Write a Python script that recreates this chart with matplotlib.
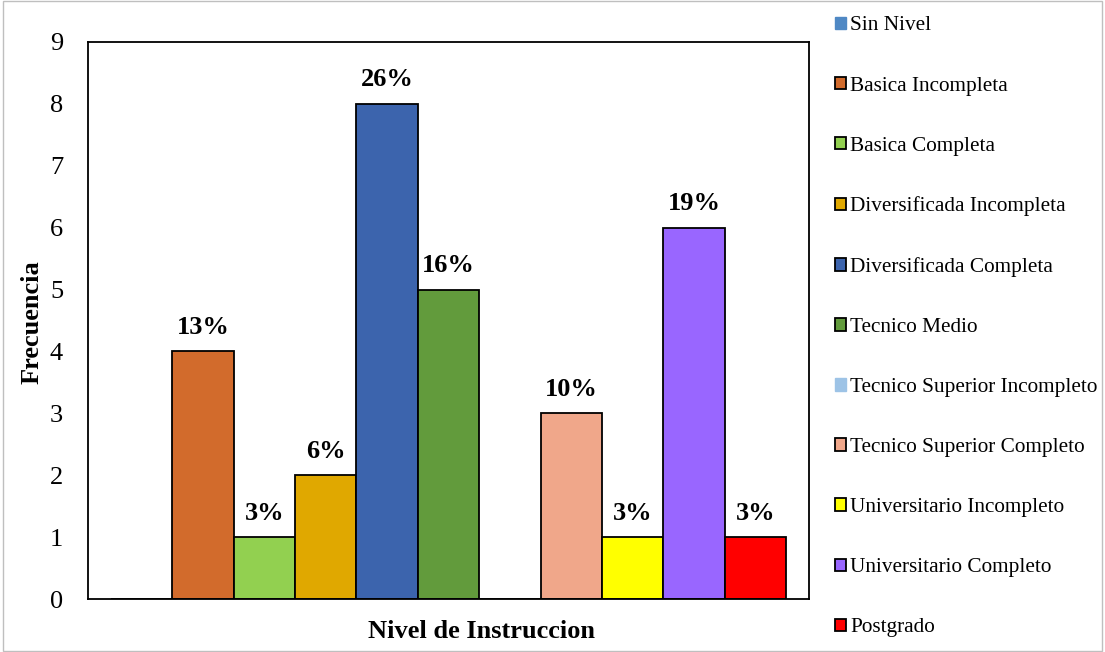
import matplotlib.pyplot as plt
from matplotlib.patches import Patch, Rectangle
import numpy as np

niveles = ["Sin Nivel", "Basica Incompleta", "Basica Completa",
           "Diversificada Incompleta", "Diversificada Completa", "Tecnico Medio",
           "Tecnico Superior Incompleto", "Tecnico Superior Completo",
           "Universitario Incompleto", "Universitario Completo", "Postgrado"]
frecuencia = [0, 4, 1, 2, 8, 5, 0, 3, 1, 6, 1]
porcentaje = ["", "13%", "3%", "6%", "26%", "16%", "", "10%", "3%", "19%", "3%"]
colores = ["#4F88C4", "#D26B2C", "#92D050", "#E0A800", "#3C64AD", "#629B3C",
           "#9DC3E6", "#F0A78A", "#FFFF00", "#9966FF", "#FF0000"]

plt.rcParams['font.family'] = ['Liberation Serif', 'DejaVu Serif']

fig = plt.figure(figsize=(11.05, 6.52), dpi=100)
ax = fig.add_axes([88/1105, 1-599/652, (809-88)/1105, (599-42)/652])

x = np.arange(len(niveles))
bars = ax.bar(x, frecuencia, width=1.0, color=colores, edgecolor="black", linewidth=1.3)

for b, txt in zip(bars, porcentaje):
    if txt:
        ax.annotate(txt, (b.get_x() + b.get_width()/2, b.get_height()),
                    xytext=(0, 9), textcoords="offset points",
                    ha="center", va="bottom", fontsize=19, fontweight="bold")

ax.set_xlim(-0.5 - 0.37, len(niveles) - 0.5 + 0.37)
ax.set_ylim(0, 9)
ax.set_yticks(range(10))
ax.set_xticks([])
ax.tick_params(axis="y", length=0, pad=18, labelsize=19)
for s in ax.spines.values():
    s.set_linewidth(1.3)
    s.set_color("black")

fig.text(32/1105, 1-322/652, "Frecuencia", rotation=90, ha="center", va="center",
         fontsize=19, fontweight="bold")
fig.text(482/1105, 1-632/652, "Nivel de Instruccion", ha="center", va="center",
         fontsize=19, fontweight="bold")

handles = []
for i, (n, c) in enumerate(zip(niveles, colores)):
    if frecuencia[i] == 0:
        handles.append(Patch(facecolor=c, edgecolor=c, label=n))
    else:
        handles.append(Patch(facecolor=c, edgecolor="black", linewidth=1.3, label=n))
fig.legend(handles=handles, loc="upper left", bbox_to_anchor=(826/1105, 1-8/652),
           frameon=False, fontsize=15.3, handlelength=0.55, handleheight=0.55,
           handletextpad=0.2, labelspacing=1.93, borderaxespad=0)

fig.patches.append(Rectangle((0.003, 0.002), 0.994, 0.996, transform=fig.transFigure,
                             fill=False, edgecolor="#BFBFBF", linewidth=1))

fig.savefig("out.png", dpi=100)
